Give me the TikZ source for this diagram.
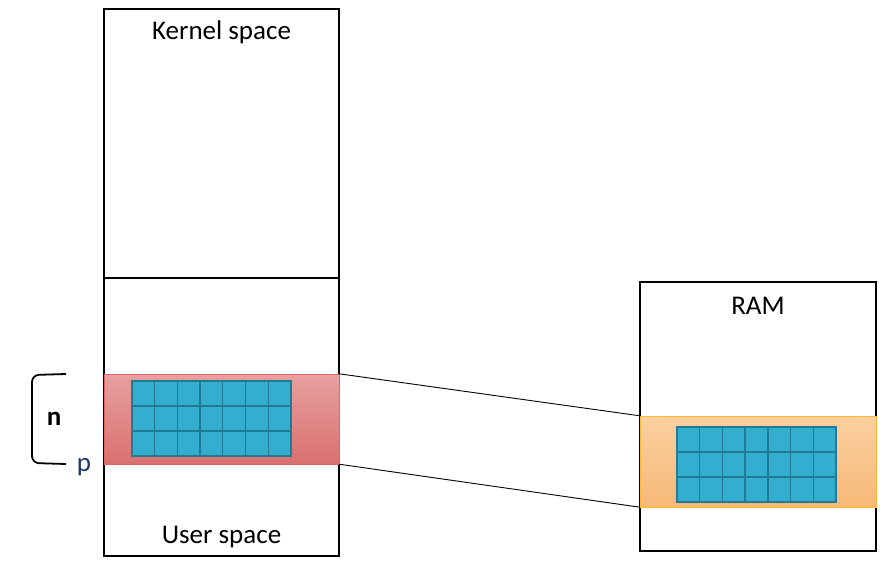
\documentclass[tikz,border=0pt]{standalone}
\usepackage{fontspec}
\setmainfont{Carlito}
\usetikzlibrary{positioning}

\definecolor{bandred}{RGB}{232,160,160}
\definecolor{bandredlow}{RGB}{218,112,112}
\definecolor{bandorange}{RGB}{250,208,160}
\definecolor{bandorangelow}{RGB}{247,184,120}
\definecolor{cellblue}{RGB}{52,174,207}
\definecolor{celledge}{RGB}{35,122,148}
\definecolor{pblue}{RGB}{32,56,100}

\tikzset{
  box/.style={draw, line width=1.2pt, inner sep=0pt},
  boxtext/.style={font=\fontsize{27}{31}\selectfont},
  cellgrid/.style={fill=cellblue, draw=celledge, line width=1.3pt}
}

\begin{document}
\begin{tikzpicture}[x=1pt,y=-1pt]
        \useasboundingbox (0,0) rectangle (885,563);
        % virtual address space
        \node[box, minimum width=235, minimum height=547] (vas) at (221.5,282.5) {};
        \node[box, minimum width=236, minimum height=269] (ram) at (758,416.5) {};
        \coordinate (split west) at (104,278);
        \coordinate (split east) at (339,278);
        \draw[line width=1.2pt] (split west) -- (split east);
        % mapped regions
        \node[draw=bandredlow!90!red, top color=bandred, bottom color=bandredlow,
              minimum width=235, minimum height=90, inner sep=0pt] (page) at (221.5,419) {};
        \node[draw=orange!70!yellow!80, top color=bandorange, bottom color=bandorangelow,
              minimum width=236, minimum height=91, inner sep=0pt] (frame) at (758,461.5) {};
        \draw[line width=0.9pt] (page.north east) -- (frame.north west);
        \draw[line width=0.9pt] (page.south east) -- (frame.south west);
        % page contents
        \foreach \x/\y in {132/381, 677/427} {
          \draw[cellgrid] (\x,\y) rectangle ++(159,75);
          \foreach \i in {1,...,6}
            \draw[celledge, line width=1.3pt] (\x+\i*22.71,\y) -- ++(0,75);
          \foreach \j in {1,2}
            \draw[celledge, line width=1.3pt] (\x,\y+\j*25) -- ++(159,0);
        }
        % texts
        \node[boxtext] (kernel) at (221.5,32) {Kernel space};
        \node[boxtext] (user) at (221.5,537) {User space};
        \node[boxtext] (ramlabel) at (758,306) {RAM};
        % size bracket
        \coordinate (brtop) at (66,374);
        \coordinate (brbot) at (66,464);
        \draw[line width=1.8pt, rounded corners=7] (brtop) -- (32,375) -- (32,463) -- (brbot);
        \node[font=\fontsize{27}{31}\selectfont\bfseries] (n) at (54,419) {n};
        \node[boxtext, text=pblue] (p) at (84,467) {p};
    \end{tikzpicture}
\end{document}
